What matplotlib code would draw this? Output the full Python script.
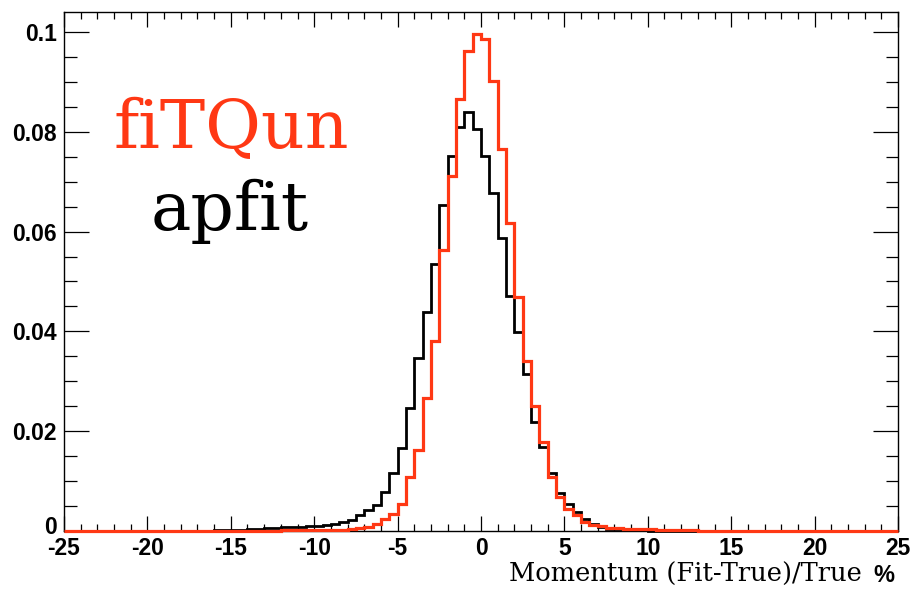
import numpy as np
import matplotlib
matplotlib.use("Agg")
import matplotlib.pyplot as plt
import matplotlib.transforms as mtransforms
from matplotlib.ticker import MultipleLocator, FixedLocator

# Histogram binning: 100 bins of 0.5 % from -25 to 25
bin_edges = np.linspace(-25, 25, 101)

# apfit (black) bin contents, bins in order from -25 to 25
apfit = [
    0, 0, 0, 0, 0, 0, 0, 0, 0, 0,                       # -25 .. -20.5
    0, 0, 0, 0, 0.0001, 0.0001, 0.0001, 0.0001, 0.0002, 0.0002,  # -20 .. -15.5
    0.0003, 0.0003, 0.0004, 0.0005, 0.0006, 0.0007, 0.0008, 0.0008, 0.0009, 0.0010,  # -15 .. -10.5
    0.0011, 0.0012, 0.0014, 0.0019, 0.0022, 0.0032, 0.0042, 0.0052, 0.0079, 0.0116,  # -10 .. -5.5
    0.0166, 0.0246, 0.0347, 0.0438, 0.0535, 0.0654, 0.0752, 0.0809, 0.0839, 0.0806,  # -5 .. -0.5
    0.0752, 0.0677, 0.0588, 0.0470, 0.0398, 0.0315, 0.0219, 0.0169, 0.0116, 0.0076,  # 0 .. 4.5
    0.0055, 0.0039, 0.0024, 0.0014, 0.0008, 0.0005, 0.0004, 0.0003, 0.0002, 0.0002,  # 5 .. 9.5
    0.0001, 0.0001, 0.0001, 0, 0, 0, 0, 0, 0, 0,        # 10 .. 14.5
    0, 0, 0, 0, 0, 0, 0, 0, 0, 0,                       # 15 .. 19.5
    0, 0, 0, 0, 0, 0, 0, 0, 0, 0,                       # 20 .. 24.5
]

# fiTQun (red) bin contents
fitqun = [
    0, 0, 0, 0, 0, 0, 0, 0, 0, 0,                       # -25 .. -20.5
    0, 0, 0, 0, 0, 0, 0.0001, 0.0001, 0.0001, 0.0001,   # -20 .. -15.5
    0.0001, 0.0001, 0.0001, 0.0001, 0.0001, 0.0001, 0.0002, 0.0002, 0.0002, 0.0003,  # -15 .. -10.5
    0.0003, 0.0003, 0.0003, 0.0003, 0.0004, 0.0007, 0.0008, 0.0015, 0.0025, 0.0035,  # -10 .. -5.5
    0.0055, 0.0109, 0.0162, 0.0266, 0.0381, 0.0563, 0.0711, 0.0866, 0.0961, 0.0995,  # -5 .. -0.5
    0.0985, 0.0902, 0.0765, 0.0617, 0.0468, 0.0340, 0.0250, 0.0179, 0.0109, 0.0069,  # 0 .. 4.5
    0.0045, 0.0032, 0.0019, 0.0012, 0.0010, 0.0007, 0.0006, 0.0005, 0.0005, 0.0004,  # 5 .. 9.5
    0.0004, 0.0003, 0.0003, 0.0002, 0.0002, 0.0002, 0.0001, 0.0001, 0.0001, 0.0001,  # 10 .. 14.5
    0.0001, 0.0001, 0, 0, 0, 0, 0, 0, 0, 0,             # 15 .. 19.5
    0, 0, 0, 0, 0, 0, 0, 0, 0, 0,                       # 20 .. 24.5
]

x_ticks = [-25, -20, -15, -10, -5, 0, 5, 10, 15, 20, 25]
x_tick_labels = ["-25", "-20", "-15", "-10", "-5", "0", "5", "10", "15", "20", "25"]
y_ticks = [0, 0.02, 0.04, 0.06, 0.08, 0.1]
y_tick_labels = ["0", "0.02", "0.04", "0.06", "0.08", "0.1"]

RED = "#ff3814"

fig = plt.figure(figsize=(9.13, 5.89), dpi=100)
ax = fig.add_axes([64 / 913, 1 - 531 / 589, (898 - 64) / 913, (531 - 12) / 589])

ax.stairs(apfit, bin_edges, baseline=0, color="black", linewidth=2.0, clip_on=False, zorder=3)
ax.stairs(fitqun, bin_edges, baseline=0, color=RED, linewidth=2.3, clip_on=False, zorder=4)

ax.set_xlim(-25, 25)
ax.set_ylim(0, 0.104)

ax.xaxis.set_major_locator(FixedLocator(x_ticks))
ax.set_xticklabels(x_tick_labels)
ax.xaxis.set_minor_locator(MultipleLocator(1))
ax.yaxis.set_major_locator(FixedLocator(y_ticks))
ax.set_yticklabels(y_tick_labels)
ax.yaxis.set_minor_locator(MultipleLocator(0.005))

ax.tick_params(axis="x", which="major", direction="in", length=10.5, width=0.9,
               top=True, bottom=True, pad=4)
ax.tick_params(axis="x", which="minor", direction="in", length=5, width=0.9,
               top=True, bottom=True)
ax.tick_params(axis="y", which="major", direction="in", length=18, width=0.9,
               left=True, right=True, pad=5)
ax.tick_params(axis="y", which="minor", direction="in", length=9, width=0.9,
               left=True, right=True)

for lab in ax.get_xticklabels() + ax.get_yticklabels():
    lab.set_fontfamily("Liberation Sans")
    lab.set_fontweight("bold")
    lab.set_fontsize(16.5)

# lift the y "0" label slightly, as in the reference, so it sits above "-25"
ylabs = ax.get_yticklabels()
ylabs[0].set_transform(ylabs[0].get_transform() +
                       mtransforms.ScaledTranslation(0, 4 / 72, fig.dpi_scale_trans))

for s in ax.spines.values():
    s.set_linewidth(1.0)

fig.text(231 / 913, 1 - 148 / 589, "fiTQun", color=RED, family="DejaVu Serif",
         fontsize=49, ha="center", va="baseline")
fig.text(230 / 913, 1 - 230 / 589, "apfit", color="black", family="DejaVu Serif",
         fontsize=49, ha="center", va="baseline")

fig.text(862 / 913, 1 - 582 / 589, "Momentum (Fit-True)/True", color="black",
         family="DejaVu Serif", fontsize=18.5, ha="right", va="baseline")
fig.text(894 / 913, 1 - 582 / 589, "%", color="black", family="Liberation Sans",
         fontweight="bold", fontsize=17, ha="right", va="baseline")

fig.savefig("out.png", dpi=100)
